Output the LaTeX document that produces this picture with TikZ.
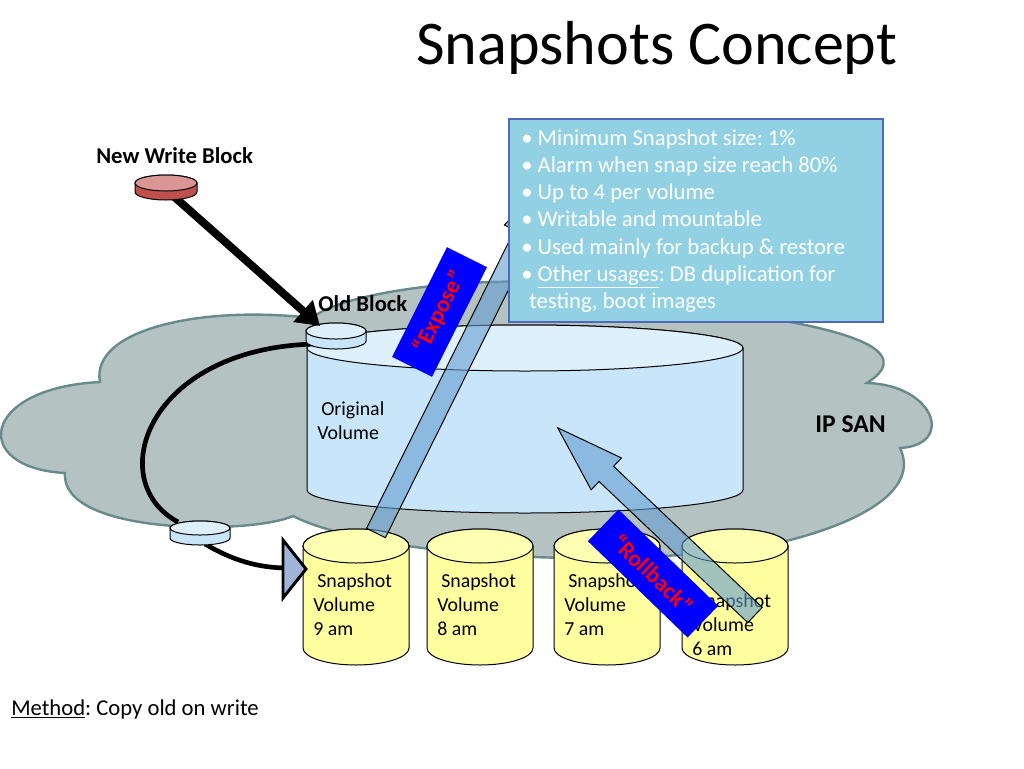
\documentclass[tikz,border=0pt]{standalone}
\usepackage{fontspec}
\setmainfont{Carlito}
\usetikzlibrary{arrows.meta,calc}
\frenchspacing

\definecolor{cloudfill}{RGB}{180,194,194}
\definecolor{cloudline}{RGB}{105,138,138}
\definecolor{volside}{RGB}{201,229,249}
\definecolor{voltop}{RGB}{222,240,252}
\definecolor{redtop}{RGB}{217,150,148}
\definecolor{redside}{RGB}{192,80,77}
\definecolor{snapside}{RGB}{255,255,160}
\definecolor{snaptop}{RGB}{255,255,178}
\definecolor{infofill}{RGB}{146,208,227}
\definecolor{infoline}{RGB}{80,105,185}
\definecolor{tripfill}{RGB}{160,180,216}
\definecolor{fatblue}{RGB}{100,156,208}

% cylinder: cx, top y, bottom y, rx, ry, side colour, top colour
\newcommand{\mycyl}[7]{%
  \filldraw[fill=#6, cyledge] (#1-#4,#2) -- (#1-#4,#3)
    arc[start angle=180, end angle=0, x radius=#4, y radius=#5]
    -- (#1+#4,#2)
    arc[start angle=0, end angle=-180, x radius=#4, y radius=#5] -- cycle;
  \filldraw[fill=#7, cyledge] (#1,#2) ellipse[x radius=#4, y radius=#5];
}
% fat arrow: tail x, tail y, angle, length
\newcommand{\myfatarrow}[4]{%
  \begin{scope}[shift={(#1,#2)}, rotate=#3]
    \filldraw[fill=fatblue, fill opacity=0.6, draw=black, line width=0.75pt]
      (0,-10.5) -- (#4-67,-10.5) -- (#4-67,-22) -- (#4,0) -- (#4-67,22)
      -- (#4-67,10.5) -- (0,10.5) -- cycle;
  \end{scope}}

\begin{document}
\begin{tikzpicture}[x=0.75pt, y=-0.75pt,
  cyledge/.style={draw=black, line width=0.75pt},
  lbl/.style={inner sep=0pt, anchor=base west, font=\fontsize{17}{20}\selectfont\bfseries},
  snaptxt/.style={inner sep=0pt, anchor=base west, font=\fontsize{14.9}{18}\selectfont},
  infotxt/.style={inner sep=0pt, anchor=base west, text=white, font=\fontsize{17}{20.5}\selectfont},
  tag/.style={fill=blue, text=red, font=\fontsize{17.5}{20}\selectfont\bfseries, inner sep=0pt},
]
\useasboundingbox (0,0) rectangle (1024,768);

% IP SAN cloud
\filldraw[fill=cloudfill, draw=cloudline, line width=1.8pt] (65,473)
  .. controls (-30,468) and (-20,388) .. (100,382)
  .. controls (90,330) and (200,305) .. (312,318)
  .. controls (350,285) and (560,265) .. (640,300)
  .. controls (700,310) and (950,330) .. (867,383)
  .. controls (935,385) and (955,445) .. (900,448)
  .. controls (920,490) and (860,522) .. (790,540)
  .. controls (650,572) and (380,560) .. (293,516)
  .. controls (250,535) and (60,535) .. (65,473) -- cycle;

% original volume
\mycyl{525}{348}{490}{218}{23}{volside}{voltop}
\node[snaptxt] (orig1) at (321,415) {Original};
\node[snaptxt] (orig2) at (317,439) {Volume};

% snapshot volumes
\mycyl{356}{546}{648}{53}{17}{snapside}{snaptop}
\mycyl{480}{546}{648}{53}{17}{snapside}{snaptop}
\mycyl{607}{546}{648}{53}{17}{snapside}{snaptop}
\mycyl{735}{546}{648}{53}{17}{snapside}{snaptop}
\node[snaptxt] (s9a) at (317,587) {Snapshot};
\node[snaptxt] (s9b) at (313,611) {Volume};
\node[snaptxt] (s9c) at (313,635) {9 am};
\node[snaptxt] (s8a) at (441,587) {Snapshot};
\node[snaptxt] (s8b) at (437,611) {Volume};
\node[snaptxt] (s8c) at (437,635) {8 am};
\node[snaptxt] (s7a) at (568,587) {Snapshot};
\node[snaptxt] (s7b) at (564,611) {Volume};
\node[snaptxt] (s7c) at (564,635) {7 am};
\node[snaptxt] (s6a) at (696,607) {Snapshot};
\node[snaptxt] (s6b) at (692,631) {Volume};
\node[snaptxt] (s6c) at (692,655) {6 am};

% copy-on-write path
\coordinate (obl) at (330,344);
\coordinate (cbt) at (178,522);
\coordinate (cbb) at (205,544);
\coordinate (tri) at (288,568);
\draw[line width=3.5pt] (obl) .. controls (150,340) and (100,480) .. (cbt);
\draw[line width=3.5pt] (cbb) .. controls (232,560) and (258,568) .. (tri);
\filldraw[fill=tripfill, draw=black, line width=2.2pt, line join=miter]
  (283,540) -- (306,569) -- (283,598) -- cycle;

% old block and copied block
\mycyl{336}{331}{341}{30}{8}{volside}{voltop}
\mycyl{200}{528}{538}{30}{7}{volside}{voltop}

% new write block and its arrow
\coordinate (nwb) at (170,193);
\coordinate (obt) at (320,326);
\draw[line width=6pt, -{Triangle[length=17pt, width=21pt]}] (nwb) -- (obt);
\mycyl{166}{183}{192}{31}{8}{redside}{redtop}

% expose and rollback arrows
\myfatarrow{376}{533}{63.6}{400}
\myfatarrow{755}{615}{136.5}{272}
\node[tag, rotate=63.4, minimum width=92pt, minimum height=33.5pt] (expose) at (439.5,312) {“Expose”};
\node[tag, rotate=-44, minimum width=104pt, minimum height=33pt] (rollback) at (653,573.5) {“Rollback”};

% info box
\node[draw=infoline, fill=infofill, line width=1.2pt, anchor=north west,
      minimum width=280.5pt, minimum height=152.25pt, inner sep=0pt] (info) at (508,118) {};
\node[infotxt] (i1) at (521,145) {• Minimum Snapshot size: 1\%};
\node[infotxt] (i2) at (521,172.3) {• Alarm when snap size reach 80\%};
\node[infotxt] (i3) at (521,199.6) {• Up to 4 per volume};
\node[infotxt] (i4) at (521,226.9) {• Writable and mountable};
\node[infotxt] (i5) at (521,254.2) {• Used mainly for backup \& restore};
\node[infotxt] (i6) at (521,281.5) {• \underline{Other usages}: DB duplication for};
\node[infotxt] (i7) at (529,308.8) {testing, boot images};

% labels
\node[inner sep=0pt, anchor=base west, font=\fontsize{46.6}{50}\selectfont] (title) at (416,64) {Snapshots Concept};
\node[lbl] (newwrite) at (96,163) {New Write Block};
\node[lbl] (oldblock) at (318,311) {Old Block};
\node[lbl, font=\fontsize{19.2}{22}\selectfont\bfseries] (ipsan) at (815,432) {IP SAN};
\node[inner sep=0pt, anchor=base west, font=\fontsize{17}{20}\selectfont] (method) at (11,715) {\underline{Method}: Copy old on write};
\end{tikzpicture}
\end{document}
